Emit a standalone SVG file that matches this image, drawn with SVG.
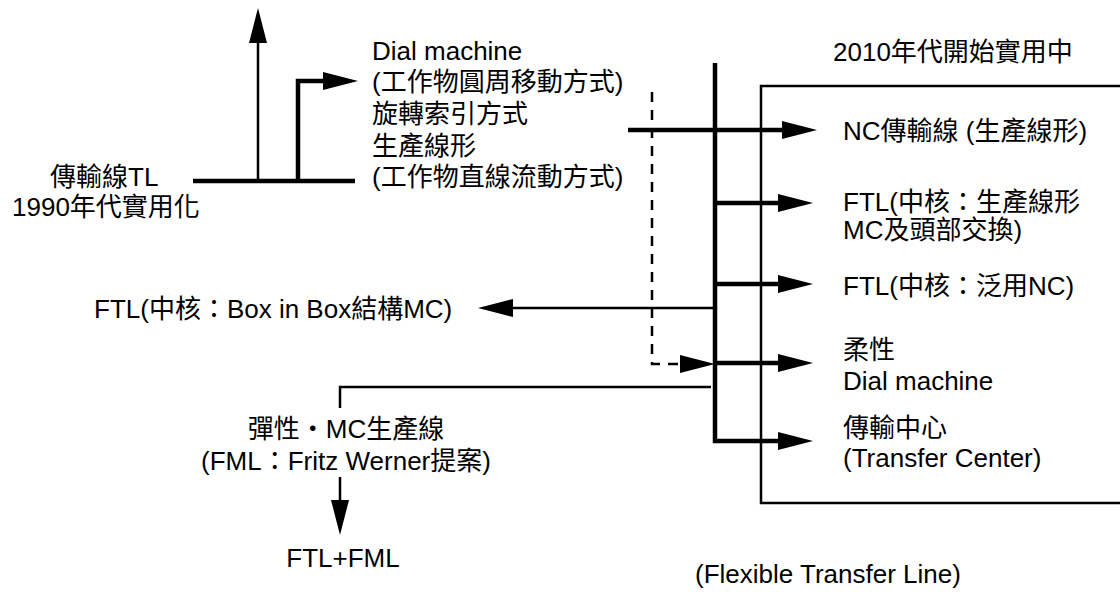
<svg xmlns="http://www.w3.org/2000/svg" width="1120" height="592" viewBox="0 0 1120 592">
<style>
text{font-family:"Liberation Sans","Noto Sans CJK TC",sans-serif;font-size:26px;fill:#000}
.thin{fill:none;stroke:#000;stroke-width:2.5}
.thick{fill:none;stroke:#000;stroke-width:4.5}
.dash{fill:none;stroke:#000;stroke-width:2.5;stroke-dasharray:10 8}
.m{text-anchor:middle}
</style>
<defs>
<marker id="ah" viewBox="0 -9 35 18" refX="0" refY="0" markerWidth="35" markerHeight="18" markerUnits="userSpaceOnUse" orient="auto">
<path d="M0,-9 L35,0 L0,9 z" fill="#000"/>
</marker>
</defs>
<rect id="ftl-box" x="761" y="86" width="420" height="417" fill="none" stroke="#000" stroke-width="2.5"/>
<g id="connectors">
<path class="thin" d="M258,181 V43" marker-end="url(#ah)"/>
<path class="thick" d="M193,181 H355"/>
<path class="thick" d="M298,181 V81 H323" marker-end="url(#ah)"/>
<path class="thick" d="M715,63 V441 H778" marker-end="url(#ah)"/>
<path class="thick" d="M628,130 H782" marker-end="url(#ah)"/>
<path class="thick" d="M715,203 H778" marker-end="url(#ah)"/>
<path class="thick" d="M715,284 H778" marker-end="url(#ah)"/>
<path class="thick" d="M715,363 H778" marker-end="url(#ah)"/>
<path class="thin" d="M715,308 H513" marker-end="url(#ah)"/>
<path class="dash" d="M652,92 V364 H680" marker-end="url(#ah)"/>
<path class="thin" d="M711,387 H340 V408"/>
<path class="thin" d="M340,477 V500" marker-end="url(#ah)"/>
</g>
<g id="tl"><text x="50" y="186">傳輸線TL</text><text x="12" y="216">1990年代實用化</text></g>
<g id="dial">
<text x="372" y="60">Dial machine</text>
<text x="372" y="91">(工作物圓周移動方式)</text>
<text x="372" y="123">旋轉索引方式</text>
<text x="372" y="155">生產線形</text>
<text x="372" y="186">(工作物直線流動方式)</text>
</g>
<g id="title2010"><text x="833" y="61">2010年代開始實用中</text></g>
<g id="nc"><text x="843" y="140">NC傳輸線 (生產線形)</text></g>
<g id="ftl1"><text x="843" y="211">FTL(中核：生產線形</text><text x="843" y="239">MC及頭部交換)</text></g>
<g id="ftl2"><text x="843" y="295">FTL(中核：泛用NC)</text></g>
<g id="flex"><text x="843" y="359">柔性</text><text x="843" y="390">Dial machine</text></g>
<g id="tc"><text x="843" y="437">傳輸中心</text><text x="843" y="467">(Transfer Center)</text></g>
<g id="boxinbox"><text x="94" y="318">FTL(中核：Box in Box結構MC)</text></g>
<g id="fml"><text class="m" x="346" y="438">彈性・MC生產線</text><text class="m" x="346" y="470">(FML：Fritz Werner提案)</text></g>
<g id="ftlfml"><text class="m" x="343" y="567">FTL+FML</text></g>
<g id="label"><text x="695" y="583">(Flexible Transfer Line)</text></g>
</svg>
